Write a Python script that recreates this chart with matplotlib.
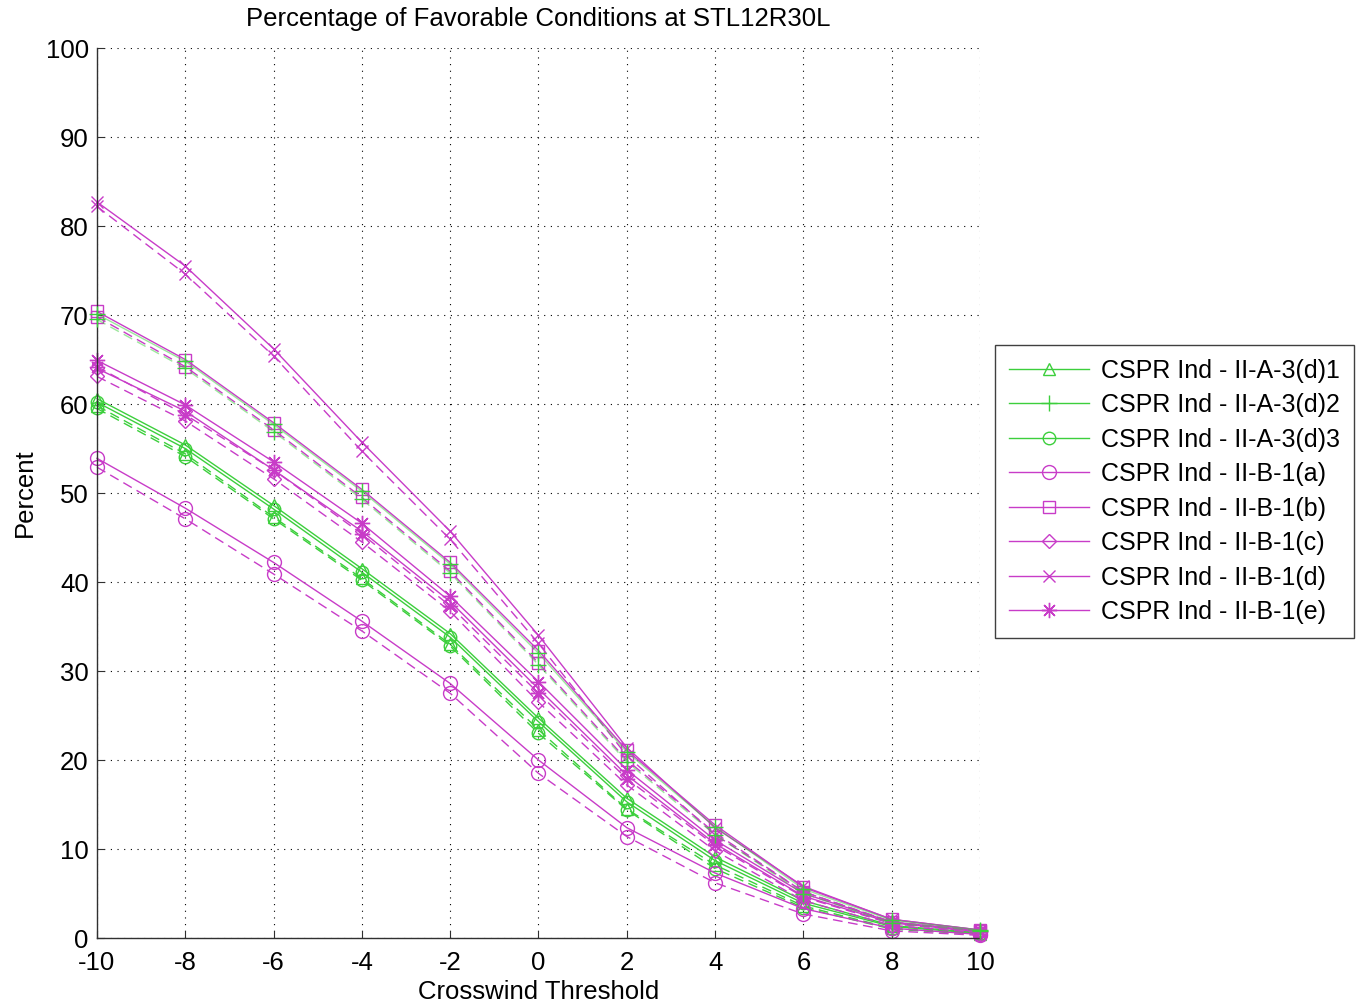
import matplotlib.pyplot as plt
from matplotlib.lines import Line2D

plt.rcParams['font.family'] = ['Liberation Sans', 'DejaVu Sans']
plt.rcParams['axes.unicode_minus'] = False

threshold = [-10, -8, -6, -4, -2, 0, 2, 4, 6, 8, 10]

# each case has a solid run and a dashed run
a3d1_solid = [60.6, 55.4, 48.6, 41.5, 34.2, 24.7, 15.7, 9.1, 4.2, 1.4, 0.6]
a3d1_dash = [59.8, 54.4, 47.3, 40.4, 33.0, 23.4, 14.5, 8.2, 3.6, 1.1, 0.5]
a3d2_solid = [70.1, 64.8, 57.7, 50.2, 42.0, 32.0, 20.9, 12.5, 5.5, 2.0, 0.9]
a3d2_dash = [69.5, 64.0, 56.9, 49.3, 41.0, 30.7, 19.8, 11.6, 5.0, 1.7, 0.8]
a3d3_solid = [60.2, 55.0, 48.2, 41.1, 33.8, 24.3, 15.3, 8.7, 3.9, 1.3, 0.5]
a3d3_dash = [59.5, 54.1, 47.1, 40.2, 32.8, 23.0, 14.4, 7.8, 3.4, 1.0, 0.4]
b1a_solid = [53.9, 48.3, 42.2, 35.6, 28.6, 20.0, 12.4, 7.3, 3.3, 1.1, 0.4]
b1a_dash = [52.9, 47.1, 40.9, 34.5, 27.5, 18.5, 11.4, 6.2, 2.7, 0.8, 0.3]
b1b_solid = [70.4, 65.0, 57.9, 50.4, 42.2, 32.3, 21.1, 12.7, 5.7, 2.1, 0.9]
b1b_dash = [69.8, 64.2, 57.1, 49.5, 41.2, 30.9, 20.0, 11.8, 5.2, 1.8, 0.8]
b1c_solid = [64.0, 59.2, 52.6, 45.7, 37.8, 28.0, 18.3, 10.6, 4.7, 1.7, 0.7]
b1c_dash = [63.1, 58.1, 51.6, 44.5, 36.7, 26.5, 17.2, 9.8, 4.2, 1.4, 0.6]
b1d_solid = [82.7, 75.5, 66.2, 55.7, 45.7, 34.0, 21.4, 12.4, 5.8, 2.1, 0.9]
b1d_dash = [82.2, 74.6, 65.4, 54.7, 44.8, 33.1, 20.5, 11.6, 5.2, 1.8, 0.8]
b1e_solid = [64.9, 59.9, 53.5, 46.6, 38.4, 28.8, 18.9, 11.0, 5.0, 1.8, 0.8]
b1e_dash = [64.2, 58.8, 52.6, 45.4, 37.3, 27.5, 17.9, 10.4, 4.6, 1.6, 0.7]

labels = ['CSPR Ind - II-A-3(d)1', 'CSPR Ind - II-A-3(d)2', 'CSPR Ind - II-A-3(d)3',
          'CSPR Ind - II-B-1(a)', 'CSPR Ind - II-B-1(b)', 'CSPR Ind - II-B-1(c)',
          'CSPR Ind - II-B-1(d)', 'CSPR Ind - II-B-1(e)']

green = '#3ccf3c'
magenta = '#c83cc8'

series = [
    (labels[0], green, '^', 9, a3d1_solid, a3d1_dash),
    (labels[1], green, '+', 11, a3d2_solid, a3d2_dash),
    (labels[2], green, 'o', 9, a3d3_solid, a3d3_dash),
    (labels[3], magenta, 'o', 10, b1a_solid, b1a_dash),
    (labels[4], magenta, 's', 9, b1b_solid, b1b_dash),
    (labels[5], magenta, 'D', 7.5, b1c_solid, b1c_dash),
    (labels[6], magenta, 'x', 9, b1d_solid, b1d_dash),
    (labels[7], magenta, (8, 2, 0), 11, b1e_solid, b1e_dash),
]

fig = plt.figure(figsize=(13.6, 10.07), dpi=100)
ax = fig.add_axes([0.0713, 0.0685, 0.6493, 0.8838])

handles = []
for label, col, mk, ms, solid, dash in series:
    line_col = col
    z = 2
    if mk == '+':
        # this case sits on top of II-B-1(b); the overlap reads grey
        line_col = col + '80'
        z = 3
    for vals, ls in [(solid, '-'), (dash, (0, (7, 4)))]:
        ax.plot(threshold, vals, color=line_col, linestyle=ls, linewidth=1.0,
                marker=mk, markersize=ms, markerfacecolor='none',
                markeredgecolor=col, markeredgewidth=1.0, zorder=z, clip_on=False)
    handles.append(Line2D([], [], color=col, linewidth=1.0, marker=mk,
                          markersize=ms, markerfacecolor='none',
                          markeredgecolor=col, markeredgewidth=1.0))

ax.set_xlim(-10, 10)
ax.set_ylim(0, 100)
ax.set_xticks(range(-10, 11, 2))
ax.set_yticks(range(0, 101, 10))
ax.grid(True, color='black', linestyle=(0, (1, 5)), linewidth=0.8)
ax.spines['top'].set_visible(False)
ax.spines['right'].set_visible(False)
for s in ['left', 'bottom']:
    ax.spines[s].set_color('#303030')
    ax.spines[s].set_linewidth(1.0)
ax.tick_params(direction='in', length=5, labelsize=18.5, colors='#303030',
               labelcolor='black')
ax.tick_params(axis='x', pad=9)
ax.tick_params(axis='y', pad=6)

ax.set_title('Percentage of Favorable Conditions at STL12R30L', fontsize=18.5, pad=16)
ax.set_xlabel('Crosswind Threshold', fontsize=18.5, labelpad=4)
ax.set_ylabel('Percent', fontsize=18.5, labelpad=6)

leg = fig.legend(handles, labels, loc='upper left', bbox_to_anchor=(0.7316, 0.6574),
                 fontsize=18, frameon=True, fancybox=False, framealpha=1,
                 edgecolor='#404040', handlelength=3.2, handletextpad=0.5,
                 labelspacing=0.42, borderpad=0.55, borderaxespad=0)
leg.get_frame().set_linewidth(1.0)

fig.savefig('out.png', dpi=100)
